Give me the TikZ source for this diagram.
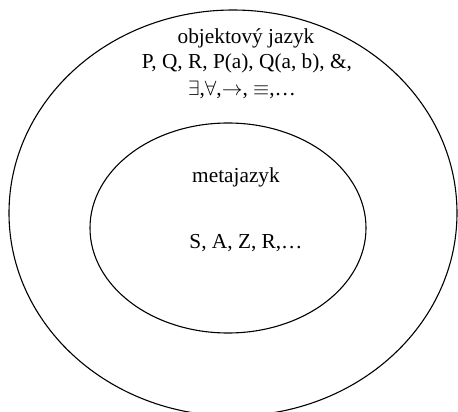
\documentclass[tikz,border=0pt]{standalone}
\usepackage{fontspec}
\setmainfont{Liberation Serif}
\begin{document}
\begin{tikzpicture}[x=1pt,y=-1pt,
  ring/.style={draw=black, line width=1.1pt},
  lbl/.style={font=\fontsize{21.3}{26}\selectfont, inner sep=0pt, anchor=center}]
\useasboundingbox (0,0) rectangle (458,412);
\draw[ring] (233,213) ellipse [x radius=224, y radius=203];
\draw[ring] (228,228) ellipse [x radius=138, y radius=105];
\node[lbl] (t1) at (246,38) {objektový jazyk};
\node[lbl] (t2) at (247,63) {P, Q, R, P(a), Q(a, b), \&,};
\node[lbl] (t3) at (242,90) {$\exists$,$\forall$,$\rightarrow$, $\equiv$,\ldots};
\node[lbl] (t4) at (236,177) {metajazyk};
\node[lbl] (t5) at (246,243) {S, A, Z, R,\ldots};
\end{tikzpicture}
\end{document}
